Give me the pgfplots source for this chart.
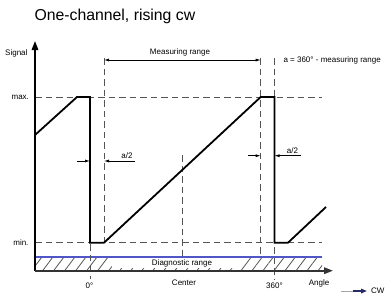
\documentclass[border=0pt]{standalone}
\usepackage{fontspec}
\setmainfont{Liberation Sans}
\usepackage{pgfplots}
\pgfplotsset{compat=1.18}
\usetikzlibrary{arrows.meta,patterns.meta}
\definecolor{dgray}{RGB}{85,85,85}
\definecolor{diagblue}{RGB}{80,85,200}
\begin{document}
\begin{tikzpicture}
\tikzset{dsh/.style={dgray, line width=1pt, dash pattern=on 6.5pt off 4pt},
  sm/.style={font=\fontsize{8}{9}\selectfont}}
\begin{axis}[
  width=385pt, height=298pt, scale only axis,
  xmin=0, xmax=385, ymin=0, ymax=298, y dir=reverse,
  hide axis, clip=false,
]
% diagnostic range hatch
\fill[pattern={Lines[angle=53,distance=8.8pt,line width=0.8pt]}, pattern color=dgray]
  (axis cs:35,257) rectangle (axis cs:322,270.5);
\fill[white] (axis cs:112,257.8) rectangle (axis cs:242,267.5);
\node[sm] at (axis cs:182,263.5) {Diagnostic range};
\draw[diagblue, line width=1.6pt] (axis cs:35,256.7) -- (axis cs:322,256.7);
% max / min dashed lines
\draw[dsh] (axis cs:35,97) -- (axis cs:322,97);
\draw[dsh] (axis cs:35,242.7) -- (axis cs:322,242.7);
% vertical dashed lines
\draw[dsh] (axis cs:90,97) -- (axis cs:90,279);
\draw[dsh] (axis cs:104,58) -- (axis cs:104,242.7);
\draw[dsh] (axis cs:182.5,155) -- (axis cs:182.5,256.7);
\draw[dsh] (axis cs:260.7,58) -- (axis cs:260.7,256.7);
\draw[dsh] (axis cs:274.5,58) -- (axis cs:274.5,279);
% axes
\draw[black, line width=1.6pt, -{Triangle[length=9pt,width=6.5pt]}] (axis cs:35,270.7) -- (axis cs:35,41);
\draw[black!80, line width=1.8pt, -{Triangle[length=9pt,width=6.5pt]}] (axis cs:35,270.7) -- (axis cs:333,270.7);
% signal
\addplot[black, line width=1.8pt, line join=miter] coordinates {
  (35,135) (77,97) (90,97) (90,242.7) (104,242.7) (260.7,97) (274.5,97)
  (274.5,242.7) (288,242.7) (326,207)
};
% measuring range arrow
\draw[black, line width=0.7pt, {Latex[length=5pt,width=3pt]}-{Latex[length=5pt,width=3pt]}] (axis cs:104,60) -- (axis cs:260.7,60);
\node[sm] at (axis cs:180,52.5) {Measuring range};
\node[sm, anchor=west] at (axis cs:280,60) {a = 360° - measuring range};
% a/2 arrows
\draw[black, line width=0.7pt, -{Latex[length=5pt,width=3pt]}] (axis cs:77,161) -- (axis cs:90,161);
\draw[black, line width=0.7pt, {Latex[length=5pt,width=3pt]}-] (axis cs:104,161) -- (axis cs:135,161);
\node[sm] at (axis cs:127,156) {a/2};
\draw[black, line width=0.7pt, -{Latex[length=5pt,width=3pt]}] (axis cs:248,155.7) -- (axis cs:260.7,155.7);
\draw[black, line width=0.7pt, {Latex[length=5pt,width=3pt]}-] (axis cs:274.5,155.7) -- (axis cs:301,155.7);
\node[sm] at (axis cs:292.5,150.5) {a/2};
% labels
\node[font=\fontsize{15.8}{18}\selectfont, anchor=west] at (axis cs:31,16) {One-channel, rising cw};
\node[sm, anchor=east] at (axis cs:31,53) {Signal};
\node[sm, anchor=east] at (axis cs:32.5,97) {max.};
\node[sm, anchor=east] at (axis cs:32,242.5) {min.};
\node[sm] at (axis cs:89.5,286) {0°};
\node[sm] at (axis cs:184,283) {Center};
\node[sm] at (axis cs:274.5,286) {360°};
\node[sm] at (axis cs:319,283) {Angle};
% CW arrow
\draw[gray!70, line width=1pt] (axis cs:341,291) -- (axis cs:355,291);
\draw[diagblue!50!black, line width=1.8pt, -{Triangle[length=6pt,width=4.5pt]}] (axis cs:353,291) -- (axis cs:367,291);
\node[sm, anchor=west, inner sep=0pt] at (axis cs:371,291) {CW};
\end{axis}
\pgfresetboundingbox
\path[use as bounding box] (current axis.south west) rectangle (current axis.north east);
\end{tikzpicture}
\end{document}
